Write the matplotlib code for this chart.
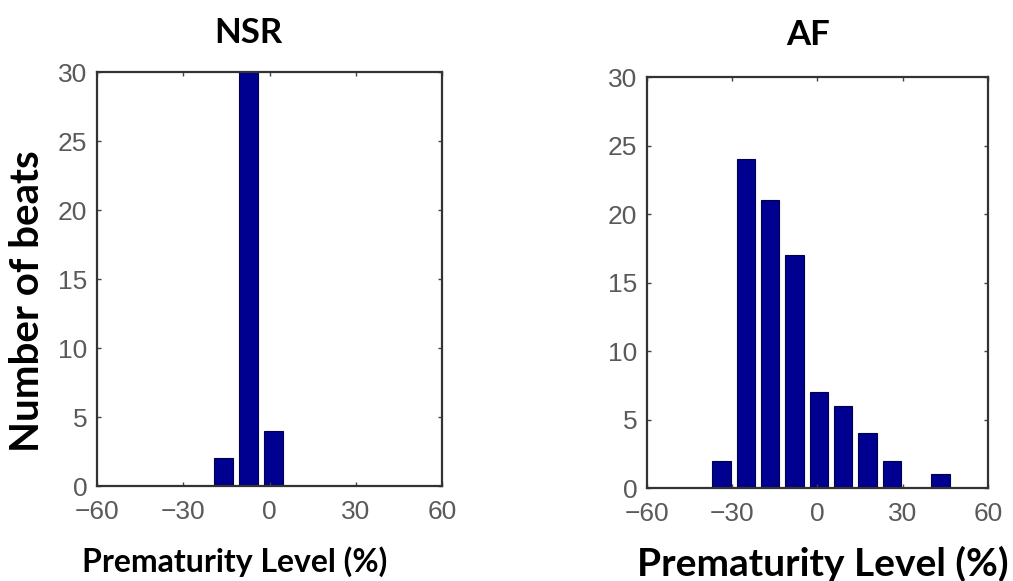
import matplotlib.pyplot as plt

# histogram bins (bin centre in %, number of beats)
nsr_centers = [-16, -7.2, 1.5]
nsr_counts = [2, 30, 4]

af_centers = [-33.8, -25.2, -16.7, -8.1, 0.5, 9.1, 17.6, 26.2, 34.8, 43.3]
af_counts = [2, 24, 21, 17, 7, 6, 4, 2, 0, 1]

x_ticks = [-60, -30, 0, 30, 60]
y_ticks = [0, 5, 10, 15, 20, 25, 30]

bar_color = '#000090'
label_font = 'Lato'

fig = plt.figure(figsize=(10.13, 5.81), dpi=100)
ax1 = fig.add_axes([0.0958, 0.1635, 0.3406, 0.7125])
ax2 = fig.add_axes([0.6387, 0.160, 0.3366, 0.7074])


def style_axes(ax, centers, counts, width):
    ax.bar(centers, counts, width=width, color=bar_color,
           edgecolor='#000050', linewidth=0.8)
    ax.set_xlim(-60, 60)
    ax.set_ylim(0, 30)
    ax.set_xticks(x_ticks)
    ax.set_yticks(y_ticks)
    ax.tick_params(direction='in', length=3, width=1, color='#444444',
                   top=True, right=True, labelsize=19, labelcolor='#5a5a5a')
    ax.tick_params(axis='x', pad=10)
    ax.tick_params(axis='y', pad=7)
    for lab in ax.get_xticklabels() + ax.get_yticklabels():
        lab.set_fontfamily('Liberation Sans')
    for sp in ax.spines.values():
        sp.set_color('#333333')
        sp.set_linewidth(1.6)


style_axes(ax1, nsr_centers, nsr_counts, 6.6)
style_axes(ax2, af_centers, af_counts, 6.4)

fig.text(0.2455, 0.926, 'NSR', ha='center', va='baseline', fontsize=25,
         fontweight='bold', family=label_font)
fig.text(0.7975, 0.9225, 'AF', ha='center', va='baseline', fontsize=25,
         fontweight='bold', family=label_font)
fig.text(0.232, 0.0155, 'Prematurity Level (%)', ha='center', va='baseline',
         fontsize=23, fontweight='bold', family=label_font)
fig.text(0.812, 0.0086, 'Prematurity Level (%)', ha='center', va='baseline',
         fontsize=28, fontweight='bold', family=label_font)
fig.text(0.027, 0.482, 'Number of beats', ha='center', va='center',
         rotation=90, fontsize=29, fontweight='bold', family=label_font)

plt.savefig('out.png', dpi=100)
